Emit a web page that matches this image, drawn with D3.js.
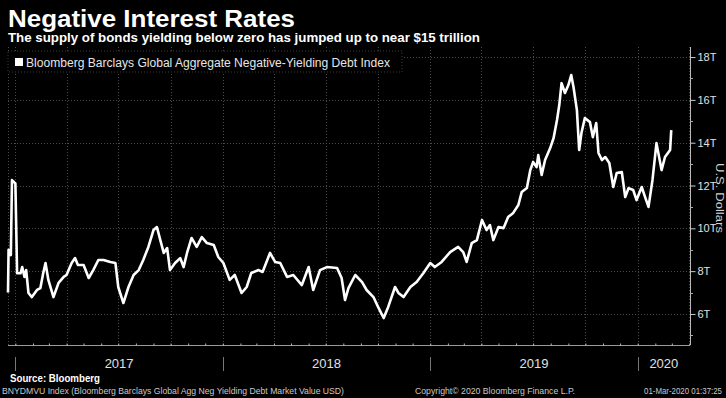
<!DOCTYPE html>
<html><head><meta charset="utf-8">
<script src="https://cdn.jsdelivr.net/npm/d3@7/dist/d3.min.js"></script>
<style>
html,body{margin:0;padding:0;background:#000;}
svg{display:block;}
text{font-family:"Liberation Sans",Arial,sans-serif;}
</style></head>
<body>
<svg id="c" width="726" height="398"></svg>
<script>
// ---- data ----
const dates = [
"2016-12-19","2016-12-20","2016-12-24","2016-12-26","2017-01-01","2017-01-04","2017-01-10","2017-01-13","2017-01-17","2017-01-20",
"2017-01-24","2017-01-30","2017-02-08","2017-02-14","2017-02-19","2017-02-23","2017-02-28","2017-03-09","2017-03-18","2017-03-27",
"2017-04-01","2017-04-10","2017-04-16","2017-04-21","2017-05-01","2017-05-10","2017-05-18","2017-05-27","2017-06-05","2017-06-17",
"2017-06-26","2017-07-01","2017-07-10","2017-07-19","2017-07-28","2017-08-06","2017-08-14","2017-08-23","2017-09-01","2017-09-07",
"2017-09-13","2017-09-19","2017-09-25","2017-09-30","2017-10-09","2017-10-18","2017-10-24","2017-10-30","2017-11-07","2017-11-16",
"2017-11-25","2017-12-04","2017-12-16","2017-12-24","2018-01-02","2018-01-13","2018-01-22","2018-02-03","2018-02-12","2018-02-20",
"2018-03-05","2018-03-12","2018-03-25","2018-04-03","2018-04-12","2018-04-24","2018-05-05","2018-05-20","2018-06-01","2018-06-09",
"2018-06-21","2018-07-03","2018-07-21","2018-07-29","2018-08-04","2018-08-10","2018-08-22","2018-09-03","2018-09-11","2018-09-23",
"2018-10-02","2018-10-11","2018-10-19","2018-10-31","2018-11-06","2018-11-15","2018-11-27","2018-12-08","2018-12-20","2019-01-01",
"2019-01-09","2019-01-21","2019-02-05","2019-02-19","2019-02-28","2019-03-06","2019-03-15","2019-03-24","2019-04-02","2019-04-10",
"2019-04-16","2019-04-22","2019-05-01","2019-05-10","2019-05-18","2019-05-27","2019-06-05","2019-06-11","2019-06-20","2019-06-26",
"2019-07-01","2019-07-07","2019-07-10","2019-07-16","2019-07-22","2019-07-31","2019-08-06","2019-08-12","2019-08-16","2019-08-20",
"2019-08-26","2019-09-01","2019-09-06","2019-09-10","2019-09-16","2019-09-20","2019-09-24","2019-09-30","2019-10-09","2019-10-14",
"2019-10-20","2019-10-24","2019-10-30","2019-11-05","2019-11-12","2019-11-19","2019-11-25","2019-12-04","2019-12-10","2019-12-16",
"2019-12-24","2019-12-30","2020-01-08","2020-01-14","2020-01-20","2020-01-27","2020-02-03","2020-02-12","2020-02-18","2020-02-27",
"2020-02-29"];
const values = [
7.0,9.0,8.75,12.25,12.1,7.9,7.9,8.19,7.73,8.05,
6.98,6.79,7.12,7.21,7.91,8.38,7.59,6.79,7.45,7.73,
7.82,8.38,8.61,8.29,8.29,7.68,8.05,8.52,8.52,8.43,
8.38,7.26,6.51,7.26,7.82,8.05,8.52,9.13,9.92,10.06,
9.45,8.85,9.08,8.05,8.38,8.61,8.19,8.85,9.55,9.13,
9.59,9.31,9.22,8.66,8.38,7.59,7.82,6.98,7.26,7.91,
8.05,7.96,8.85,8.43,8.38,7.73,7.82,7.35,8.19,7.12,
8.05,8.19,8.15,7.68,6.65,7.21,7.82,7.49,7.12,6.79,
6.28,5.81,6.33,7.26,6.98,6.79,7.26,7.49,7.91,8.38,
8.19,8.43,8.89,9.13,8.89,8.43,9.31,9.45,10.39,9.92,
10.15,9.45,10.06,10.01,10.53,10.72,11.09,11.70,11.88,12.72,
13.10,12.86,13.42,12.49,13.19,13.75,14.22,15.06,15.76,16.78,
16.32,16.69,17.16,16.60,15.52,13.66,14.45,15.15,14.96,14.26,
14.92,13.52,13.19,13.33,13.05,11.93,12.58,12.63,11.46,11.88,
11.79,11.32,11.93,11.46,11.0,12.26,13.98,12.72,13.33,13.66,
14.59];
const yTicks = [6,8,10,12,14,16,18];
const yMinorTicks = [5,7,9,11,13,15,17];
const years = ["2017","2018","2019","2020"];

const titleText = "Negative Interest Rates";
const subtitleText = "The supply of bonds yielding below zero has jumped up to near $15 trillion";
const legendText = "Bloomberg Barclays Global Aggregate Negative-Yielding Debt Index";
const axisTitle = "U.S. Dollars";
const sourceText = "Source: Bloomberg";
const footLeft = "BNYDMVU Index (Bloomberg Barclays Global Agg Neg Yielding Debt Market Value USD)";
const footMid = "Copyright\u00A9 2020 Bloomberg Finance L.P.";
const footRight = "01-Mar-2020 01:37:25";

// ---- layout ----
const parse = d3.timeParse("%Y-%m-%d");
const data = dates.map((d,i)=>({date:parse(d), v:values[i]}));
const L = 8, R = 690, T = 47, B = 345;
const x = d3.scaleTime().domain([parse("2016-12-19"), parse("2020-04-02")]).range([L, R]);
const y = d3.scaleLinear().domain([4.55, 18.47]).range([B, T]);

const svg = d3.select("#c");
svg.append("rect").attr("width",726).attr("height",398).attr("fill","#000");

// gridlines
const grid = svg.append("g").attr("stroke","#4a4a4a").attr("stroke-dasharray","1,2").attr("stroke-width",1);
grid.selectAll("line.h").data(yTicks).join("line")
  .attr("x1",L).attr("x2",R).attr("y1",d=>Math.round(y(d))+0.5).attr("y2",d=>Math.round(y(d))+0.5);
const quarters = d3.timeMonth.every(3).range(x.domain()[0], x.domain()[1]);
grid.selectAll("line.v").data(quarters).join("line")
  .attr("y1",T).attr("y2",B).attr("x1",d=>Math.round(x(d))+0.5).attr("x2",d=>Math.round(x(d))+0.5);
grid.append("line").attr("x1",L+0.5).attr("x2",L+0.5).attr("y1",T).attr("y2",B);

// legend box
svg.append("rect").attr("x",L).attr("y",51).attr("width",394).attr("height",21)
  .attr("fill","#000").attr("stroke","#3a3a3a").attr("stroke-dasharray","1,2");
svg.append("rect").attr("x",15).attr("y",58).attr("width",8).attr("height",8).attr("fill","#fff");
svg.append("text").attr("x",26).attr("y",67).attr("fill","#e6e6e6").attr("font-size",12.5)
  .attr("textLength",364).attr("lengthAdjust","spacingAndGlyphs").text(legendText);

// line
svg.append("path").datum(data)
  .attr("d", d3.line().x(d=>x(d.date)).y(d=>y(d.v)).curve(d3.curveLinear))
  .attr("fill","none").attr("stroke","#fff").attr("stroke-width",2.6).attr("stroke-linejoin","round");

// right axis
const yAxis = d3.axisRight(y).tickValues(yTicks).tickSize(5).tickPadding(2).tickFormat(d=>d+"T");
const ga = svg.append("g").attr("transform",`translate(${R+0.5},0)`).call(yAxis);
ga.select(".domain").attr("stroke","#bbb").attr("d",`M0,${T}V${B}`);
ga.selectAll(".tick line").attr("stroke","#ccc");
ga.selectAll(".tick text").attr("fill","#e0e0e0").attr("font-size",11).attr("font-family","Liberation Sans, Arial, sans-serif");
svg.append("g").selectAll("line").data(yMinorTicks).join("line")
  .attr("x1",R).attr("x2",R+3).attr("y1",d=>Math.round(y(d))+0.5).attr("y2",d=>Math.round(y(d))+0.5)
  .attr("stroke","#aaa");

// bottom axis
const months = d3.timeMonth.every(1).range(x.domain()[0], x.domain()[1]);
const xAxis = d3.axisBottom(x).tickValues(months).tickSize(-2).tickFormat("");
const gx = svg.append("g").attr("transform",`translate(0,${B+0.5})`).call(xAxis);
gx.select(".domain").attr("stroke","#999").attr("d",`M${L},0H${R}`);
gx.selectAll(".tick line").attr("stroke","#bbb");

// year band
const yearStarts = years.map(yr=>parse(yr+"-01-01"));
svg.append("g").selectAll("line").data(yearStarts).join("line")
  .attr("x1",d=>Math.round(x(d))+0.5).attr("x2",d=>Math.round(x(d))+0.5)
  .attr("y1",357).attr("y2",371).attr("stroke","#777");
svg.append("g").selectAll("text").data(years).join("text")
  .attr("x",yr=>{
    const a = Math.max(x.domain()[0], parse(yr+"-01-01"));
    const b = Math.min(x.domain()[1], parse((+yr+1)+"-01-01"));
    return (x(a)+x(b))/2;})
  .attr("y",368).attr("text-anchor","middle").attr("fill","#e0e0e0").attr("font-size",13).text(d=>d);

// axis title (rotated)
svg.append("text").attr("transform","translate(716,163) rotate(90)")
  .attr("fill","#d0d0d0").attr("font-size",11.5).attr("textLength",70).attr("lengthAdjust","spacingAndGlyphs").text(axisTitle);

// titles
svg.append("text").attr("x",8).attr("y",27).attr("fill","#fff").attr("font-weight","bold")
  .attr("font-size",24).attr("textLength",287).attr("lengthAdjust","spacingAndGlyphs").text(titleText);
svg.append("text").attr("x",8).attr("y",42).attr("fill","#fff").attr("font-weight","bold")
  .attr("font-size",12.5).attr("textLength",472).attr("lengthAdjust","spacingAndGlyphs").text(subtitleText);

// footer
svg.append("text").attr("x",10).attr("y",382).attr("fill","#fff").attr("font-weight","bold")
  .attr("font-size",10).attr("textLength",90).attr("lengthAdjust","spacingAndGlyphs").text(sourceText);
svg.append("text").attr("x",2).attr("y",394).attr("fill","#c8c8c8").attr("font-size",9)
  .attr("textLength",342).attr("lengthAdjust","spacingAndGlyphs").text(footLeft);
svg.append("text").attr("x",415).attr("y",394).attr("fill","#c8c8c8").attr("font-size",9)
  .attr("textLength",160).attr("lengthAdjust","spacingAndGlyphs").text(footMid);
svg.append("text").attr("x",644).attr("y",394).attr("fill","#c8c8c8").attr("font-size",8.2)
  .attr("textLength",78).attr("lengthAdjust","spacingAndGlyphs").text(footRight);
</script>
</body></html>
